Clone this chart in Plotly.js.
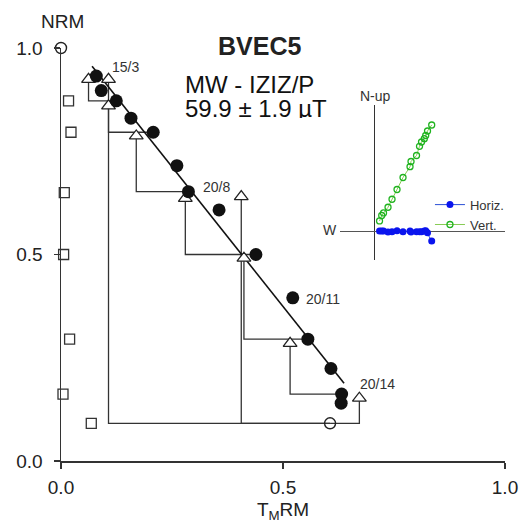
<!DOCTYPE html>
<html>
<head>
<meta charset="utf-8">
<script src="https://cdn.plot.ly/plotly-3.0.1.min.js"></script>
<style>html,body{margin:0;padding:0;background:#fff;}</style>
</head>
<body>
<div id="chart" style="width:523px;height:526px;"></div>
<script>
// ---- Arai plot data ----
// demagnetisation steps: TRM gained (x) vs NRM remaining (y)
var stepX = [0.000, 0.0795, 0.0907, 0.1245, 0.1576, 0.2077, 0.261, 0.287, 0.356, 0.439, 0.522, 0.556, 0.608, 0.632, 0.631, 0.606];
var stepY = [1.000, 0.932, 0.897, 0.872, 0.830, 0.796, 0.715, 0.652, 0.608, 0.500, 0.395, 0.295, 0.224, 0.162, 0.140, 0.0913];
var stepUsed = [false, true, true, true, true, true, true, true, true, true, true, true, true, true, true, false];

// pTRM checks (triangles) and the step each check is tied to
var checkX = [0.062, 0.107, 0.107, 0.1695, 0.280, 0.406, 0.412, 0.516, 0.672];
var checkY = [0.924, 0.924, 0.860, 0.787, 0.636, 0.640, 0.491, 0.285, 0.152];
var checkRef = [3, 15, 5, 7, 9, 15, 11, 13, 15];

// pTRM tail checks (squares)
var tailX = [0.017, 0.0225, 0.0074, 0.0059, 0.0194, 0.0045, 0.0682];
var tailY = [0.872, 0.796, 0.650, 0.500, 0.295, 0.162, 0.0913];

// best-fit line end points
var fitX = [0.070, 0.6375];
var fitY = [0.956, 0.188];

// step labels
var labelText = ["15/3", "20/8", "20/11", "20/14"];
var labelX = [0.111, 0.316, 0.547, 0.668];
var labelY = [0.955, 0.663, 0.392, 0.186];

// ---- Zijderveld inset data ----
var zEW = [0.570, 0.528, 0.510, 0.496, 0.468, 0.448, 0.418, 0.363, 0.353, 0.283, 0.223, 0.173, 0.133, 0.088, 0.070, 0.048];
var zHoriz = [-0.093, -0.010, 0.010, 0.007, 0.000, 0.000, 0.000, -0.003, 0.007, 0.000, 0.010, 0.000, -0.003, 0.007, 0.007, 0.007];
var zVert = [1.067, 1.007, 0.962, 0.930, 0.897, 0.854, 0.762, 0.702, 0.650, 0.542, 0.422, 0.324, 0.244, 0.187, 0.162, 0.107];

// ---- build traces ----
var FONT = "Arial, 'Liberation Sans', sans-serif";
var INK = "#222";

// check connector lines
var lx = [], ly = [];
for (var i = 0; i < checkX.length; i++) {
  var j = checkRef[i];
  lx.push(checkX[i], checkX[i], stepX[j], null);
  ly.push(checkY[i], stepY[j], stepY[j], null);
}
var traces = [];
traces.push({x: lx, y: ly, mode: "lines", line: {color: "#333", width: 1.3}, hoverinfo: "skip", showlegend: false, xaxis: "x", yaxis: "y"});
traces.push({x: fitX, y: fitY, mode: "lines", line: {color: "#111", width: 1.6}, showlegend: false, xaxis: "x", yaxis: "y"});
traces.push({x: tailX, y: tailY, mode: "markers", cliponaxis: false,
  marker: {symbol: "square-open", size: 10, color: "#333", line: {width: 1.3}}, showlegend: false, xaxis: "x", yaxis: "y"});
traces.push({x: checkX, y: checkY, mode: "markers", cliponaxis: false,
  marker: {symbol: "triangle-up", size: 12, color: "#fff", line: {color: "#222", width: 1.3}}, showlegend: false, xaxis: "x", yaxis: "y"});
var ox = [], oy = [], fx = [], fy = [];
for (var k = 0; k < stepX.length; k++) {
  if (stepUsed[k]) { fx.push(stepX[k]); fy.push(stepY[k]); } else { ox.push(stepX[k]); oy.push(stepY[k]); }
}
traces.push({x: ox, y: oy, mode: "markers", cliponaxis: false,
  marker: {symbol: "circle-open", size: 11, color: "#222", line: {width: 1.4}}, showlegend: false, xaxis: "x", yaxis: "y"});
traces.push({x: fx, y: fy, mode: "markers", cliponaxis: false,
  marker: {symbol: "circle", size: 13, color: "#111"}, showlegend: false, xaxis: "x", yaxis: "y"});

// inset
traces.push({x: zEW, y: zHoriz, name: "Horiz.", mode: "lines+markers", cliponaxis: false,
  line: {color: "#2a4fd6", width: 1}, marker: {symbol: "circle", size: 7, color: "#0a14ee"}, xaxis: "x2", yaxis: "y2"});
traces.push({x: zEW, y: zVert, name: "Vert.", mode: "lines+markers", cliponaxis: false,
  line: {color: "#88cc55", width: 1}, marker: {symbol: "circle-open", size: 6, color: "#1fb31f", line: {width: 1.3}}, xaxis: "x2", yaxis: "y2"});

var annotations = [];
for (var a = 0; a < labelText.length; a++) {
  annotations.push({x: labelX[a], y: labelY[a], xref: "x", yref: "y", text: labelText[a], showarrow: false,
    xanchor: "left", yanchor: "middle", font: {family: FONT, size: 14, color: "#333"}});
}
annotations.push({x: 0.448, y: 1.006, xref: "paper", yref: "paper", text: "<b>BVEC5</b>", showarrow: false,
  xanchor: "center", yanchor: "middle", font: {family: FONT, size: 25, color: INK}});
annotations.push({x: 0.274, y: 0.913, xref: "paper", yref: "paper", text: "MW - IZIZ/P", showarrow: false,
  xanchor: "left", yanchor: "middle", height: 20, valign: "middle", font: {family: FONT, size: 24, color: "#111"}});
annotations.push({x: 0.274, y: 0.855, xref: "paper", yref: "paper", text: "59.9 ± 1.9 µT", showarrow: false,
  xanchor: "left", yanchor: "middle", height: 20, valign: "middle", font: {family: FONT, size: 24, color: "#111"}});
annotations.push({x: 0.004, y: 1.065, xref: "paper", yref: "paper", text: "NRM", showarrow: false,
  xanchor: "center", yanchor: "middle", font: {family: FONT, size: 19, color: INK}});
annotations.push({x: 0.709, y: 0.884, xref: "paper", yref: "paper", text: "N-up", showarrow: false,
  xanchor: "center", yanchor: "middle", font: {family: FONT, size: 14, color: "#333"}});
annotations.push({x: 0.605, y: 0.559, xref: "paper", yref: "paper", text: "W", showarrow: false,
  xanchor: "center", yanchor: "middle", font: {family: FONT, size: 14, color: "#333"}});

var layout = {
  width: 523, height: 526,
  margin: {l: 61, r: 18, t: 48, b: 65},
  paper_bgcolor: "#fff", plot_bgcolor: "rgba(0,0,0,0)",
  font: {family: FONT, color: INK},
  showlegend: true,
  legend: {x: 0.831, y: 0.657, xanchor: "left", yanchor: "top", bgcolor: "rgba(0,0,0,0)",
    font: {family: FONT, size: 13, color: "#333"}, itemwidth: 30},
  xaxis: {domain: [0, 1], range: [0, 1], showgrid: false, zeroline: false, showline: true, linecolor: "#333", linewidth: 1.5,
    ticks: "outside", ticklen: 6, tickwidth: 1.5, tickcolor: "#333", tickvals: [0, 0.5, 1], ticktext: ["0.0", "0.5", "1.0"],
    tickfont: {family: FONT, size: 19, color: INK}, ticklabelstandoff: 3,
    title: {text: "T<sub>M</sub>RM", font: {family: FONT, size: 19, color: INK}, standoff: 5}},
  yaxis: {domain: [0, 1], range: [0, 1], showgrid: false, zeroline: false, showline: true, linecolor: "#333", linewidth: 1.5,
    ticks: "outside", ticklen: 6, tickwidth: 1.5, tickcolor: "#333", tickvals: [0, 0.5, 1], ticktext: ["0.0", "0.5", "1.0"],
    tickfont: {family: FONT, size: 19, color: INK}, ticklabelstandoff: 7},
  xaxis2: {domain: [0.628, 1.0], anchor: "y2", range: [-0.349, 1.303], showgrid: false, showline: false,
    showticklabels: false, ticks: "", zeroline: true, zerolinecolor: "#333", zerolinewidth: 1.3},
  yaxis2: {domain: [0.487, 0.862], anchor: "x2", range: [-0.282, 1.267], showgrid: false, showline: false,
    showticklabels: false, ticks: "", zeroline: true, zerolinecolor: "#555", zerolinewidth: 1.3},
  annotations: annotations
};

Plotly.newPlot("chart", traces, layout, {staticPlot: true, displayModeBar: false});
</script>
</body>
</html>
